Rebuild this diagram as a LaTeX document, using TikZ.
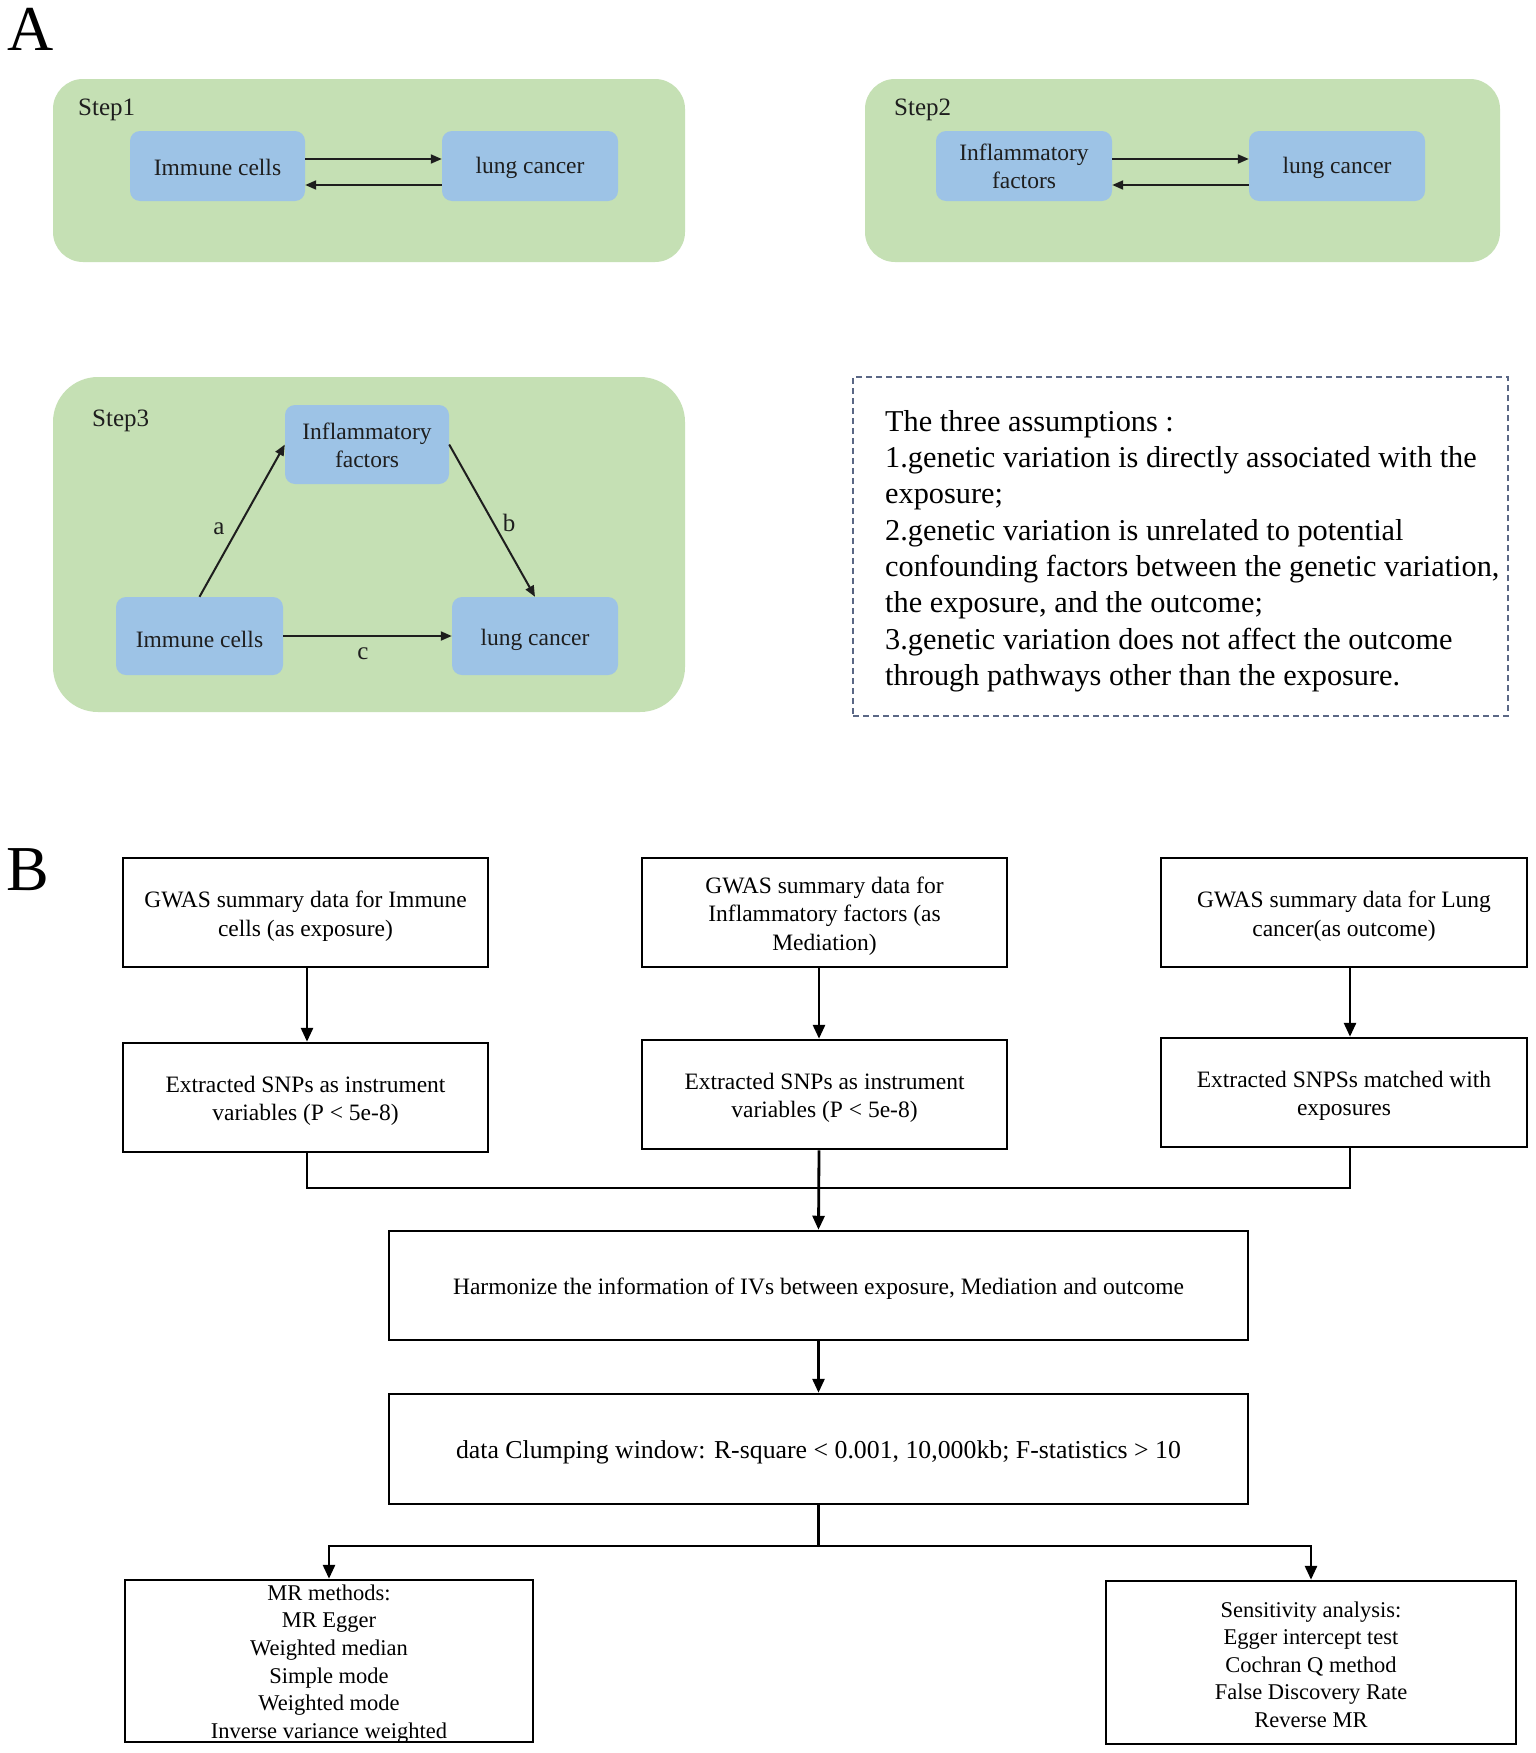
\documentclass[tikz,border=0pt]{standalone}
\usepackage{fontspec}
\setmainfont{Liberation Serif}
\usetikzlibrary{arrows.meta,calc}
\definecolor{stepgreen}{HTML}{C5E0B4}
\definecolor{stepblue}{HTML}{9DC3E6}
\definecolor{dashcol}{HTML}{5A6785}
\definecolor{txtdark}{HTML}{1E1E1E}
\begin{document}
\begin{tikzpicture}[x=1pt,y=-1pt,
 greenbg/.style={fill=stepgreen, rounded corners=30pt, inner sep=0pt},
 bluebox/.style={fill=stepblue, rounded corners=10pt, inner sep=0pt},
 bluetext/.style={inner sep=0pt, align=center, text=txtdark, font=\fontsize{23.5}{28}\selectfont},
 steplabel/.style={anchor=west, inner sep=0pt, text=txtdark, font=\fontsize{25}{30}\selectfont},
 edgelabel/.style={inner sep=0pt, text=txtdark, font=\fontsize{25}{30}\selectfont},
 sarrow/.style={line width=2pt, draw=txtdark, -{Triangle[length=11pt,width=9pt]}},
 flowbox/.style={draw, line width=2.5pt, inner sep=0pt},
 flowtext/.style={inner sep=0pt, align=center, font=\fontsize{23.5}{28.5}\selectfont},
 listtext/.style={inner sep=0pt, align=center, font=\fontsize{22.5}{27.6}\selectfont},
 farrow/.style={line width=2.8pt, -{Triangle[length=14pt,width=12pt]}},
 fline/.style={line width=2.8pt},
 panel/.style={font=\fontsize{64}{64}\selectfont, inner sep=0pt}
]
\useasboundingbox (0,0) rectangle (1535,1753);
\fill[white] (0,0) rectangle (1535,1753);

% ---------- Panel A ----------
\node[panel] (pA) at (31,29) {A};

% Step 1
\node[greenbg, minimum width=632pt, minimum height=183pt] (g1bg) at (369,170.5) {};
\node[steplabel] (s1) at (78,110) {Step1};
\node[bluebox, minimum width=175pt, minimum height=70pt] (ic1) at (217.5,166) {};
\node[bluetext] (ic1t) at ([yshift=-1pt]ic1.center) {Immune cells};
\node[bluebox, minimum width=176pt, minimum height=70pt] (lc1) at (530,166) {};
\node[bluetext] (lc1t) at ([yshift=-2pt]lc1.center) {lung cancer};
\draw[sarrow] ([yshift=7pt]ic1.east) -- ([yshift=7pt]lc1.west);
\draw[sarrow] ([yshift=-19pt]lc1.west) -- ([yshift=-19pt]ic1.east);

% Step 2
\node[greenbg, minimum width=635pt, minimum height=183pt] (g2bg) at (1182.5,170.5) {};
\node[steplabel] (s2) at (894,110) {Step2};
\node[bluebox, minimum width=176pt, minimum height=70pt] (if2) at (1024,166) {};
\node[bluetext] (if2t) at ([yshift=0pt]if2.center) {Inflammatory\\factors};
\node[bluebox, minimum width=176pt, minimum height=70pt] (lc2) at (1337,166) {};
\node[bluetext] (lc2t) at ([yshift=-2pt]lc2.center) {lung cancer};
\draw[sarrow] ([yshift=7pt]if2.east) -- ([yshift=7pt]lc2.west);
\draw[sarrow] ([yshift=-19pt]lc2.west) -- ([yshift=-19pt]if2.east);

% Step 3
\node[greenbg, rounded corners=45pt, minimum width=632pt, minimum height=335pt] (g3bg) at (369,544.5) {};
\node[steplabel] (s3) at (92,421) {Step3};
\node[bluebox, minimum width=164pt, minimum height=79pt] (if3) at (367,444.5) {};
\node[bluetext] (if3t) at ([yshift=-1pt]if3.center) {Inflammatory\\factors};
\node[bluebox, minimum width=167pt, minimum height=78pt] (ic3) at (199.5,636) {};
\node[bluetext] (ic3t) at ([yshift=-3pt]ic3.center) {Immune cells};
\node[bluebox, minimum width=166pt, minimum height=78pt] (lc3) at (535,636) {};
\node[bluetext] (lc3t) at ([yshift=-4pt]lc3.center) {lung cancer};
\draw[sarrow] (ic3.north) -- (if3.west);
\draw[sarrow] (if3.east) -- (lc3.north);
\draw[sarrow] (ic3.east) -- (lc3.west);
\node[edgelabel] (la) at (219,529) {a};
\node[edgelabel] (lb) at (509,523) {b};
\node[edgelabel] (lcc) at (363,654) {c};

% Assumptions box
\node[draw=dashcol, line width=2pt, dash pattern=on 6pt off 4pt, minimum width=655pt, minimum height=339pt, inner sep=0pt] (asm) at (1180.5,546.5) {};
\node[anchor=west, inner sep=0pt, align=left, font=\fontsize{30.3}{36.3}\selectfont] (asmtext) at (885,551) {The three assumptions :\\
1.genetic variation is directly associated with the\\
exposure;\\
2.genetic variation is unrelated to potential\\
confounding factors between the genetic variation,\\
the exposure, and the outcome;\\
3.genetic variation does not affect the outcome\\
through pathways other than the exposure.};

% ---------- Panel B ----------
\node[panel] (pB) at (28,870) {B};

\node[flowbox, minimum width=365pt, minimum height=109pt] (b1) at (305.5,912.5) {};
\node[flowtext] (b1t) at ([yshift=-3.5pt]b1.center) {GWAS summary data for Immune\\cells (as exposure)};
\node[flowbox, minimum width=365pt, minimum height=109pt] (b2) at (824.5,912.5) {};
\node[flowtext] (b2t) at ([yshift=-3.5pt]b2.center) {GWAS summary data for\\Inflammatory factors (as\\Mediation)};
\node[flowbox, minimum width=366pt, minimum height=109pt] (b3) at (1344,912.5) {};
\node[flowtext] (b3t) at ([yshift=-3.5pt]b3.center) {GWAS summary data for Lung\\cancer(as outcome)};

\node[flowbox, minimum width=365pt, minimum height=109pt] (e1) at (305.5,1097.5) {};
\node[flowtext] (e1t) at ([yshift=-3.5pt]e1.center) {Extracted SNPs as instrument\\variables (P < 5e-8)};
\node[flowbox, minimum width=365pt, minimum height=109pt] (e2) at (824.5,1094.5) {};
\node[flowtext] (e2t) at ([yshift=-3.5pt]e2.center) {Extracted SNPs as instrument\\variables (P < 5e-8)};
\node[flowbox, minimum width=366pt, minimum height=109pt] (e3) at (1344,1092.5) {};
\node[flowtext] (e3t) at ([yshift=-3.5pt]e3.center) {Extracted SNPSs matched with\\exposures};

\draw[farrow] ([xshift=1.5pt]b1.south) -- ([xshift=1.5pt]e1.north);
\draw[farrow] ([xshift=-5.5pt]b2.south) -- ([xshift=-5.5pt]e2.north);
\draw[farrow] ([xshift=6pt]b3.south) -- ([xshift=6pt]e3.north);

\node[flowbox, minimum width=859pt, minimum height=109pt] (harm) at (818.5,1285.5) {};
\node[flowtext] (harmt) at ([yshift=-3.5pt]harm.center) {Harmonize the information of IVs between exposure, Mediation and outcome};
\node[flowbox, minimum width=859pt, minimum height=110pt] (clump) at (818.5,1449) {};
\node[flowtext, font=\fontsize{25.8}{30}\selectfont] (clumpt) at ([yshift=-3.5pt]clump.center) {data Clumping window: R-square < 0.001, 10,000kb; F-statistics > 10};

\coordinate (mL) at (307,1188);
\coordinate (mR) at (1350,1188);
\draw[fline] ([xshift=1.5pt]e1.south) -- (mL) -- (mR) -- ([xshift=6pt]e3.south);
\draw[farrow] ([xshift=-5.5pt]e2.south) -- (harm.north);
\draw[farrow] (harm.south) -- (clump.north);

\node[flowbox, minimum width=408pt, minimum height=162pt] (mr) at (329,1661) {};
\node[listtext] (mrtext) at ([yshift=-3pt]mr.center) {MR methods:\\MR Egger\\Weighted median\\Simple mode\\Weighted mode\\Inverse variance weighted};
\node[flowbox, minimum width=410pt, minimum height=163pt] (sens) at (1311,1662.5) {};
\node[listtext] (senstext) at ([yshift=-2pt]sens.center) {Sensitivity analysis:\\Egger intercept test\\Cochran Q method\\False Discovery Rate\\Reverse MR};

\coordinate (sp) at (818.5,1546);
\coordinate (spL) at (329,1546);
\coordinate (spR) at (1311,1546);
\draw[fline] (clump.south) -- (sp);
\draw[farrow] (spL) -- (spR |- spL) -- (spR) -- (sens.north);
\draw[farrow] (sp) -- (spL) -- (mr.north);
\end{tikzpicture}
\end{document}
